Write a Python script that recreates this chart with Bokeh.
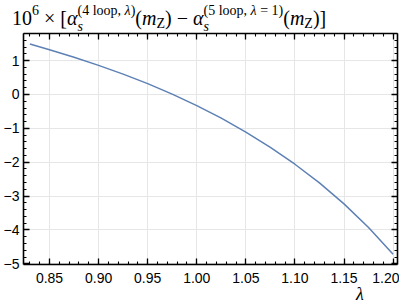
from bokeh.plotting import figure
from bokeh.layouts import column
from bokeh.models import (Range1d, LinearAxis, SingleIntervalTicker, CustomJSTickFormatter,
                          Grid, Div)
from bokeh.embed import file_html
from bokeh.resources import INLINE

# ---- data ----
lam = [0.83, 0.85, 0.875, 0.90, 0.925, 0.95, 0.975, 1.00, 1.025, 1.05, 1.075,
       1.10, 1.125, 1.15, 1.175, 1.20]
delta_alpha = [1.49, 1.32, 1.10, 0.86, 0.60, 0.32, 0.01, -0.33, -0.70, -1.11, -1.56,
               -2.06, -2.61, -3.23, -3.93, -4.72]
x_major = 0.05
y_major = 1
x_label = "λ"

W = 399
TH = 32            # title strip height
MH = 256           # main plot height
BH = 12            # strip for the lambda label
FL, FR = 22, 397   # frame left/right on the canvas
FT, FB = 1, 232    # frame top/bottom inside main plot

# ---------------- main plot ----------------
p = figure(width=W, height=MH, x_range=Range1d(0.8235, 1.2045), y_range=Range1d(-5.02, 1.80),
           output_backend="svg", toolbar_location=None, title=None,
           x_axis_type=None, y_axis_type=None,
           min_border_left=FL, min_border_right=W - FR, min_border_top=FT, min_border_bottom=MH - FB)
p.outline_line_color = None
p.background_fill_color = "white"
p.border_fill_color = "white"

xt = SingleIntervalTicker(interval=x_major, num_minor_ticks=5)
yt = SingleIntervalTicker(interval=y_major, num_minor_ticks=5)

xfmt = CustomJSTickFormatter(code="return tick.toFixed(2);")
yfmt = CustomJSTickFormatter(code="var v = Math.round(tick); return v < 0 ? '\\u2212' + Math.abs(v) : '' + v;")
blank = CustomJSTickFormatter(code="return '';")


def mk_axis(ticker, fmt, show, standoff=4):
    return LinearAxis(ticker=ticker, formatter=fmt,
                      axis_line_width=1.6, axis_line_color="black",
                      major_tick_in=6, major_tick_out=0, minor_tick_in=3, minor_tick_out=0,
                      major_tick_line_width=1.3, minor_tick_line_width=1.1,
                      major_tick_line_color="black", minor_tick_line_color="black",
                      major_label_text_font="Liberation Sans",
                      major_label_text_font_size="14px" if show else "0px",
                      major_label_text_color="black",
                      major_label_standoff=standoff if show else 0)


p.add_layout(mk_axis(xt, xfmt, True, 8), "below")
p.add_layout(mk_axis(yt, yfmt, True, 4), "left")
p.add_layout(mk_axis(xt, blank, False), "above")
p.add_layout(mk_axis(yt, blank, False), "right")

p.add_layout(Grid(dimension=0, ticker=xt, grid_line_color="#e6e6e6", grid_line_width=1))
p.add_layout(Grid(dimension=1, ticker=yt, grid_line_color="#e6e6e6", grid_line_width=1))

p.line(lam, delta_alpha, line_color="#5E81B5", line_width=1.5)

# ---------------- title (HTML text, Times-like serif) ----------------
S = "position:relative;font-size:14px;line-height:14px;"
sup = lambda s: f'<span style="{S}top:-10px">{s}</span>'
sub_s = f'<span style="{S}top:6px;font-style:italic;margin-right:-5.4px">s</span>'
sub_z = f'<span style="{S}top:3px">Z</span>'
title_html = (
    '<div style="font-family:\'Liberation Serif\',serif;font-size:20px;line-height:20px;'
    'padding:8px 0 0 12px;white-space:nowrap;color:black">'
    '10' + sup('6') + ' × [<i>α</i>' + sub_s + sup('(4 loop, <i>λ</i>)') +
    '(<i>m</i>' + sub_z + ') − <i>α</i>' + sub_s + sup('(5 loop, <i>λ</i> = 1)') +
    '(<i>m</i>' + sub_z + ')]</div>'
)
t = Div(text=title_html, width=W, height=TH, margin=0)

lam_html = (
    '<div style="font-family:\'Liberation Serif\',serif;font-size:18px;line-height:12px;'
    f'font-style:italic;padding-left:356px;white-space:nowrap;color:black">{x_label}</div>'
)
b = Div(text=lam_html, width=W, height=BH, margin=0)

layout = column(t, p, b, spacing=0)
open("out.html", "w").write(file_html(layout, INLINE))
